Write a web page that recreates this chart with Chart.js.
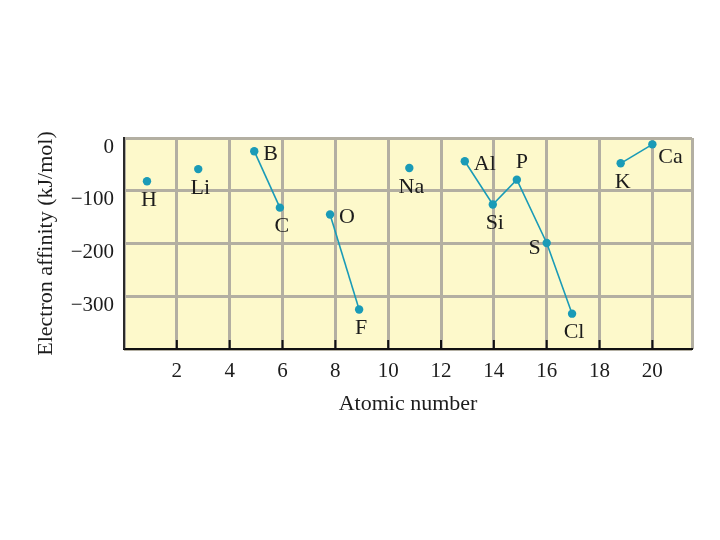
<!DOCTYPE html>
<html>
<head>
<meta charset="utf-8">
<script src="https://cdn.jsdelivr.net/npm/chart.js@4/dist/chart.umd.min.js"></script>
<style>
  html, body { margin: 0; padding: 0; background: #ffffff; }
  #wrap { width: 720px; height: 540px; }
</style>
</head>
<body>
<div id="wrap"><canvas id="myChart" width="720" height="540"></canvas></div>
<script>
// values
const symbols = ["H", "Li", "B", "C", "O", "F", "Na", "Al", "Si", "P", "S", "Cl", "K", "Ca"];
const atomicNumbers = [0.87, 2.81, 4.93, 5.9, 7.8, 8.9, 10.8, 12.9, 13.96, 14.87, 16.0, 16.96, 18.8, 20.0];
const affinities = [-82, -59, -25, -132, -145, -325, -57, -44, -126, -79, -199, -333, -48, -12];
// which points are joined together by a line
const groups = [[0], [1], [2, 3], [4, 5], [6], [7, 8, 9, 10, 11], [12, 13]];
// where each element name sits relative to its point
const labelPlacement = ["below", "below", "right", "below", "right", "below", "below",
                        "right", "below", "above", "left", "below", "below", "belowRight"];
const xTickLabels = [2, 4, 6, 8, 10, 12, 14, 16, 18, 20];
const yTickLabels = [0, -100, -200, -300];

const pointColor = "#1a9bb7";
const gridColor = "#b3afa2";
const serif = "'Liberation Serif', 'DejaVu Serif', serif";

// build one dataset per joined group
const datasets = groups.map((g) => ({
  data: g.map((i) => ({ x: atomicNumbers[i], y: affinities[i] })),
  borderColor: pointColor,
  backgroundColor: pointColor,
  borderWidth: 1.6,
  pointRadius: 4.2,
  pointHoverRadius: 4.2,
  pointBorderWidth: 0,
  showLine: true,
  tension: 0,
}));

// yellow plot background, axis line and the dark left edge
const plotFrame = {
  id: "plotFrame",
  beforeDraw(chart) {
    const { ctx, chartArea: a } = chart;
    ctx.save();
    ctx.fillStyle = "#fdf9cb";
    ctx.fillRect(a.left, a.top, a.right - a.left, a.bottom - a.top);
    ctx.restore();
  },
  afterDatasetsDraw(chart) {
    const { ctx, chartArea: a } = chart;
    const xs = chart.scales.x;
    ctx.save();
    // black axis line with small tick marks pointing inward
    ctx.strokeStyle = "#111";
    ctx.lineWidth = 2;
    ctx.beginPath();
    ctx.moveTo(a.left - 1, a.bottom);
    ctx.lineTo(a.right + 1, a.bottom);
    xTickLabels.forEach((v) => {
      const px = xs.getPixelForValue(v);
      ctx.moveTo(px, a.bottom);
      ctx.lineTo(px, a.bottom - 9);
    });
    ctx.stroke();
    ctx.strokeStyle = "#2a2a2a";
    ctx.beginPath();
    ctx.moveTo(a.left, a.top - 1);
    ctx.lineTo(a.left, a.bottom);
    ctx.stroke();
    ctx.restore();
  },
};

// element names beside the points
const elementLabels = {
  id: "elementLabels",
  afterDatasetsDraw(chart) {
    const { ctx } = chart;
    const xs = chart.scales.x;
    const ys = chart.scales.y;
    ctx.save();
    ctx.font = "22px " + serif;
    ctx.fillStyle = "#1c1c1c";
    ctx.textBaseline = "middle";
    symbols.forEach((s, i) => {
      const px = xs.getPixelForValue(atomicNumbers[i]);
      const py = ys.getPixelForValue(affinities[i]);
      let dx = 0, dy = 0, align = "center";
      switch (labelPlacement[i]) {
        case "below": dx = 2; dy = 19; break;
        case "right": dx = 9; dy = 3; align = "left"; break;
        case "above": dx = 5; dy = -17; break;
        case "left": dx = -6; dy = 5; align = "right"; break;
        case "belowRight": dx = 6; dy = 13; align = "left"; break;
      }
      ctx.textAlign = align;
      ctx.fillText(s, px + dx, py + dy);
    });
    ctx.restore();
  },
};

const ctx = document.getElementById("myChart").getContext("2d");
const chart = new Chart(ctx, {
  type: "scatter",
  data: { datasets: datasets },
  options: {
    responsive: false,
    animation: false,
    events: [],
    layout: { padding: { top: 138, right: 28, bottom: 119, left: 0 } },
    plugins: {
      legend: { display: false },
      tooltip: { enabled: false },
    },
    scales: {
      x: {
        type: "linear",
        min: 0,
        max: 21.5,
        afterFit: (scale) => { scale.height = 72; },
        // gridlines at every even number plus the right edge
        afterBuildTicks: (scale) => {
          scale.ticks = [0].concat(xTickLabels, [21.5]).map((v) => ({ value: v }));
        },
        ticks: {
          autoSkip: false,
          maxRotation: 0,
          padding: 10,
          color: "#1c1c1c",
          font: { family: serif, size: 21 },
          callback: (v) => (xTickLabels.includes(v) ? String(v) : ""),
        },
        grid: { color: gridColor, lineWidth: 3, drawTicks: false },
        border: { display: false },
        title: {
          display: true,
          text: "Atomic number",
          color: "#1c1c1c",
          font: { family: serif, size: 22 },
          padding: { top: 0, bottom: 4 },
        },
      },
      y: {
        type: "linear",
        min: -400,
        max: 0,
        afterFit: (scale) => { scale.width = 124; },
        ticks: {
          stepSize: 100,
          padding: 10,
          labelOffset: 9,
          color: "#1c1c1c",
          font: { family: serif, size: 21 },
          callback: (v) => (yTickLabels.includes(v) ? (v < 0 ? "\u2212" + Math.abs(v) : String(v)) : ""),
        },
        grid: { color: gridColor, lineWidth: 3, drawTicks: false },
        border: { display: false },
        title: {
          display: true,
          text: "Electron affinity (kJ/mol)",
          color: "#1c1c1c",
          font: { family: serif, size: 22 },
          padding: { top: 33, bottom: 0 },
        },
      },
    },
  },
  plugins: [plotFrame, elementLabels],
});
</script>
</body>
</html>
